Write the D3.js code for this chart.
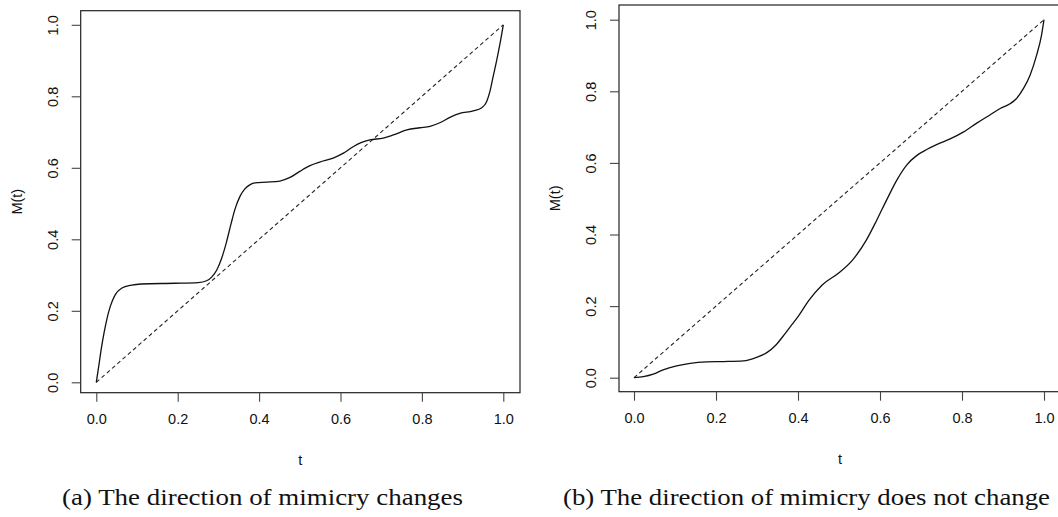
<!DOCTYPE html>
<html>
<head>
<meta charset="utf-8">
<script src="https://cdn.jsdelivr.net/npm/d3@7/dist/d3.min.js"></script>
<style>
  html, body { margin: 0; padding: 0; background: #fff; }
  svg { display: block; }
  .tick text { font-family: "Liberation Sans", Arial, sans-serif; font-size: 14.5px; fill: #111; }
  .tick line { stroke: #444; stroke-width: 1.1; }
</style>
</head>
<body>
<svg id="chart" width="1058" height="517"></svg>
<script>
// Shared axis ticks
const tTicks = [0.0, 0.2, 0.4, 0.6, 0.8, 1.0];
const mTicks = [0.0, 0.2, 0.4, 0.6, 0.8, 1.0];

// Panel (a): mimicry function whose direction changes
const tA = [0, 0.006, 0.012, 0.019, 0.026, 0.034, 0.046, 0.062, 0.087, 0.111, 0.193, 0.25, 0.271,
            0.284, 0.296, 0.308, 0.32, 0.331, 0.341, 0.353, 0.365, 0.378, 0.39, 0.419, 0.451,
            0.476, 0.5, 0.525, 0.549, 0.582, 0.607, 0.631, 0.652, 0.672, 0.705, 0.73, 0.763,
            0.795, 0.82, 0.844, 0.869, 0.893, 0.926, 0.947, 0.959, 0.967, 0.975, 0.984, 0.992, 1.0];
const mA = [0, 0.045, 0.092, 0.138, 0.177, 0.211, 0.244, 0.263, 0.272, 0.275, 0.277, 0.279, 0.284,
            0.295, 0.314, 0.347, 0.393, 0.443, 0.485, 0.52, 0.541, 0.553, 0.558, 0.56, 0.563,
            0.573, 0.59, 0.606, 0.616, 0.627, 0.641, 0.659, 0.671, 0.678, 0.683, 0.692, 0.706,
            0.712, 0.716, 0.726, 0.741, 0.752, 0.759, 0.768, 0.785, 0.813, 0.855, 0.902, 0.948, 1.0];

// Panel (b): mimicry function whose direction does not change
const tB = [0, 0.023, 0.047, 0.071, 0.104, 0.137, 0.177, 0.218, 0.267, 0.299, 0.324, 0.345, 0.369,
            0.385, 0.401, 0.426, 0.459, 0.5, 0.534, 0.567, 0.592, 0.616, 0.641, 0.665, 0.69,
            0.715, 0.738, 0.771, 0.803, 0.836, 0.868, 0.893, 0.917, 0.933, 0.95, 0.966, 0.982,
            0.994, 1.0];
const mB = [0, 0.003, 0.01, 0.022, 0.033, 0.04, 0.044, 0.045, 0.047, 0.057, 0.07, 0.09, 0.124,
            0.148, 0.172, 0.215, 0.259, 0.293, 0.33, 0.385, 0.44, 0.496, 0.552, 0.594, 0.621,
            0.638, 0.651, 0.667, 0.686, 0.711, 0.734, 0.752, 0.765, 0.78, 0.808, 0.845, 0.901,
            0.957, 1.0];

const captions = ["(a) The direction of mimicry changes",
                  "(b) The direction of mimicry does not change"];

// Panel geometry in pixels
const panels = [
  { t: tA, m: mA, caption: captions[0],
    xr: [96.3, 503.3], yr: [382.3, 24.8], box: [80.7, 10.7, 520, 392.7],
    capX: [62, 463] },
  { t: tB, m: mB, caption: captions[1],
    xr: [634, 1044], yr: [377.7, 19.7], box: [619, 5, 1061, 391.7],
    capX: [563, 1050] }
];

const svg = d3.select("#chart");

panels.forEach(p => {
  const x = d3.scaleLinear().domain([0, 1]).range(p.xr);
  const y = d3.scaleLinear().domain([0, 1]).range(p.yr);
  const [bl, bt, br, bb] = p.box;
  const g = svg.append("g");

  // plot frame
  g.append("rect")
    .attr("x", bl).attr("y", bt)
    .attr("width", br - bl).attr("height", bb - bt)
    .attr("fill", "none").attr("stroke", "#222").attr("stroke-width", 1.2);

  // x axis
  const xa = g.append("g").attr("transform", `translate(0,${bb})`)
    .call(d3.axisBottom(x).tickValues(tTicks).tickFormat(d3.format(".1f"))
      .tickSize(9).tickPadding(12));
  xa.select(".domain").remove();

  // y axis with rotated labels
  const ya = g.append("g").attr("transform", `translate(${bl},0)`)
    .call(d3.axisLeft(y).tickValues(mTicks).tickFormat(d3.format(".1f")).tickSize(9));
  ya.select(".domain").remove();
  ya.selectAll(".tick text")
    .attr("transform", "rotate(-90)")
    .attr("text-anchor", "middle")
    .attr("x", 0).attr("dx", 0)
    .attr("y", -23).attr("dy", 0);

  // axis titles
  g.append("text")
    .attr("x", (bl + br) / 2).attr("y", bb + 72)
    .attr("text-anchor", "middle")
    .attr("font-family", "Liberation Sans, Arial, sans-serif")
    .attr("font-size", 14.5).attr("fill", "#111")
    .text("t");
  g.append("text")
    .attr("transform", `translate(${bl - 59},${(bt + bb) / 2}) rotate(-90)`)
    .attr("text-anchor", "middle")
    .attr("font-family", "Liberation Sans, Arial, sans-serif")
    .attr("font-size", 14.5).attr("fill", "#111")
    .text("M(t)");

  // diagonal reference M(t) = t
  g.append("path")
    .datum([0, 1])
    .attr("d", d3.line().x(d => x(d)).y(d => y(d)))
    .attr("fill", "none").attr("stroke", "#222")
    .attr("stroke-width", 1.1).attr("stroke-dasharray", "4,3");

  // mimicry curve
  const pts = p.t.map((tv, i) => [tv, p.m[i]]);
  g.append("path")
    .datum(pts)
    .attr("d", d3.line().x(d => x(d[0])).y(d => y(d[1])).curve(d3.curveMonotoneX))
    .attr("fill", "none").attr("stroke", "#111").attr("stroke-width", 1.3);

  // sub-figure caption
  g.append("text")
    .attr("x", p.capX[0]).attr("y", 505)
    .attr("font-family", "Liberation Serif, 'Times New Roman', serif")
    .attr("font-size", 23.5).attr("fill", "#111")
    .attr("textLength", p.capX[1] - p.capX[0])
    .attr("lengthAdjust", "spacingAndGlyphs")
    .text(p.caption);
});
</script>
</body>
</html>
